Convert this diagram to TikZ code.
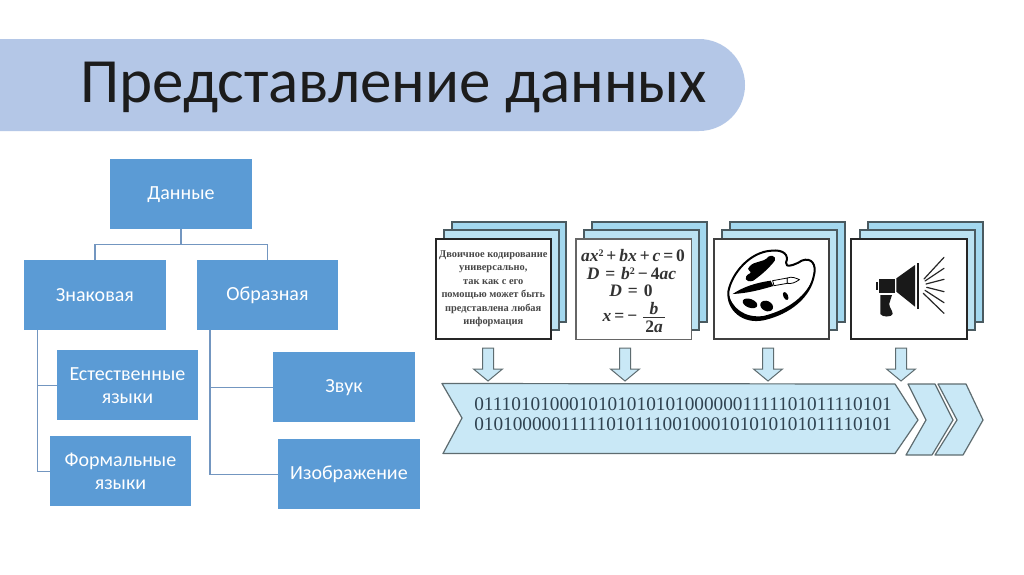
\documentclass[tikz,border=0pt]{standalone}
\usepackage{fontspec}
\setmainfont{Carlito}
\newfontfamily\serifcard{Liberation Serif}
\usetikzlibrary{calc}
\definecolor{titlebar}{HTML}{B4C7E7}
\definecolor{titleink}{HTML}{1C1C1C}
\definecolor{boxfill}{HTML}{5B9BD5}
\definecolor{linkcol}{HTML}{7396C0}
\definecolor{backcard}{HTML}{A3D8EF}
\definecolor{midcard}{HTML}{BBE2F2}
\definecolor{cardedge}{HTML}{4A5A60}
\definecolor{bandfill}{HTML}{C9E8F6}
\definecolor{bandedge}{HTML}{5E6C70}
\definecolor{bandink}{HTML}{2F4250}
\newcommand{\vv}[1]{{\bfseries\itshape #1}}
\newcommand{\up}[1]{\raisebox{5.5pt}{\fontsize{10}{10}\selectfont #1}}
\tikzset{
  orgbox/.style={fill=boxfill,draw=none,minimum width=141.5pt,minimum height=70pt,inner sep=0pt,
    text=white,align=center,font=\fontsize{20}{23}\selectfont,anchor=north west},
  orglink/.style={draw=linkcol,line width=1.4pt},
  cardfront/.style={fill=white,draw=black!85,line width=1.5pt},
  cardmid/.style={fill=midcard,draw=cardedge,line width=1.3pt},
  cardback/.style={fill=backcard,draw=cardedge,line width=1.3pt},
  downarrow/.style={fill=bandfill,draw=bandedge,line width=1pt,line join=miter},
  band/.style={fill=bandfill,draw=bandedge,line width=1.2pt,line join=round},
  formula/.style={font=\serifcard\bfseries\fontsize{17.5}{17.5}\selectfont,text=black!80,inner sep=0pt},
}
\begin{document}
\begin{tikzpicture}[x=1pt,y=-1pt]
\useasboundingbox (0,0) rectangle (1024,574);
\fill[white] (0,0) rectangle (1024,574);
% title bar
\fill[titlebar] (0,39) -- (699,39) arc[start angle=-90,end angle=90,radius=46] -- (0,131) -- cycle;
\node[anchor=west,text=titleink,font=\fontsize{63}{70}\selectfont,inner sep=0pt] (title) at (80,87) {Представление данных};
% org chart
\node[orgbox] (d) at (110,159) {Данные};
\node[orgbox] (z) at (24,260) {Знаковая};
\node[orgbox] (o) at (196.5,260) {Образная};
\node[orgbox] (e) at (56.5,350) {Естественные\\языки};
\node[orgbox] (f) at (49.5,436) {Формальные\\языки};
\node[orgbox] (s) at (273,352) {Звук};
\node[orgbox] (i) at (278,439) {Изображение};
\draw[orglink] (d.south) -- ++(0,15) -| (z.north);
\draw[orglink] (d.south) -- ++(0,15) -| (o.north);
\draw[orglink] ($(z.south west)+(13.5,0)$) |- (e.west);
\draw[orglink] ($(z.south west)+(13.5,0)$) |- (f.west);
\draw[orglink] ($(o.south west)+(13.5,0)$) |- (s.west);
\draw[orglink] ($(o.south west)+(13.5,0)$) |- (i.west);
% cards
\draw[cardback] (452,222) rectangle (566,322);
\draw[cardmid] (444,230) rectangle (559,330);
\draw[cardback] (592,222) rectangle (707,322);
\draw[cardmid] (584,230) rectangle (699,330);
\draw[cardback] (730,222) rectangle (845,322);
\draw[cardmid] (722,230) rectangle (837,330);
\draw[cardback] (868,222) rectangle (983,322);
\draw[cardmid] (860,230) rectangle (975,330);
\node[cardfront,minimum width=115pt,minimum height=100pt,inner sep=0pt,anchor=north west,align=center,
  font=\serifcard\bfseries\fontsize{10.4}{13.5}\selectfont,text=black!72] (c1) at (435,238)
  {Двоичное кодирование\\универсально,\\так как с его\\помощью может быть\\представлена любая\\информация};
\node[cardfront,draw=black!60,minimum width=115.5pt,minimum height=100.5pt,inner sep=0pt,anchor=north west] (c2) at (575,238) {};
\node[formula] (m1) at (633,256) {\vv{ax}\up{2}\,+\,\vv{bx}\,+\,\vv{c}\,=\,0};
\node[formula] (m2) at (631.5,274) {\vv{D}\,\,=\,\,\vv{b}\up{2}\,−\,4\vv{ac}};
\node[formula] (m3) at (631,291) {\vv{D}\,\,=\,\,0};
\node[formula] (m4) at (620,317) {\vv{x}\,=\,−};
\node[formula] (m5) at (654,309) {\vv{b}};
\node[formula] (m6) at (654,327) {2\vv{a}};
\coordinate (fracl) at (643,317);
\coordinate (fracr) at (665,317);
\draw[black!80,line width=.9pt] (fracl) -- (fracr);
\node[cardfront,draw=black!75,minimum width=115pt,minimum height=100pt,inner sep=0pt,anchor=north west] (c3) at (713,238) {};
\node[cardfront,minimum width=116pt,minimum height=100pt,inner sep=0pt,anchor=north west] (c4) at (850,238) {};
% palette
\begin{scope}[shift={(700,210)},scale=1/3]
\draw[fill=white,draw=black,line width=2pt,line join=round]
  (85,245) .. controls (95,190) and (150,125) .. (215,122)
  .. controls (250,118) and (268,135) .. (258,158)
  .. controls (255,175) and (285,165) .. (305,152)
  .. controls (335,140) and (350,165) .. (342,195)
  .. controls (330,260) and (270,310) .. (190,328)
  .. controls (130,340) and (82,300) .. (85,245) -- cycle;
\fill[black] (342,195) .. controls (330,260) and (270,310) .. (190,328)
  .. controls (130,340) and (82,300) .. (85,245)
  .. controls (92,295) and (135,325) .. (190,318)
  .. controls (265,300) and (325,255) .. (342,195) -- cycle;
\fill[black] (148,170) .. controls (165,150) and (190,160) .. (205,140)
  .. controls (225,130) and (232,150) .. (218,160)
  .. controls (205,175) and (190,190) .. (160,212)
  .. controls (135,220) and (128,200) .. (150,190)
  .. controls (160,185) and (135,180) .. (148,170) -- cycle;
\fill[black] (98,252) .. controls (130,230) and (170,218) .. (212,212) -- (220,228)
  .. controls (180,240) and (140,250) .. (98,252) -- cycle;
\draw[black,line width=.8pt,fill=white] (218,212) -- (262,204) -- (262,220) -- (222,227) -- cycle;
\draw[black,line width=.8pt,fill=white] (262,204) .. controls (275,198) and (290,205) .. (298,209)
  .. controls (285,218) and (275,222) .. (262,220) -- cycle;
\fill[black] (150,280) ellipse[x radius=23,y radius=13,rotate=-20];
\fill[black] (200,288) ellipse[x radius=20,y radius=15,rotate=-25];
\fill[black] (257,258) ellipse[x radius=7,y radius=13,rotate=25];
% megaphone
\fill[black!90] (528,215) rectangle (535,241);
\fill[black!90] (537,207) rectangle (585,250);
\fill[black!90] (589,205) -- (645,165) -- (645,290) -- (589,245) -- cycle;
\fill[black!90] (650,160) rectangle (656,296);
\fill[black!90] (541,255) -- (576,255) -- (568,280)
  .. controls (566,292) and (578,300) .. (578,312)
  .. controls (576,322) and (545,322) .. (541,312) -- cycle;
\draw[black!85,line width=1.2pt,line cap=round]
  (672,207) -- (732,142)
  (675,213) -- (732,175)
  (678,222) -- (732,208)
  (680,232) -- (732,245)
  (675,241) -- (732,278)
  (670,250) -- (732,310);
\end{scope}
% block arrows
\foreach \ax in {488,625,768,901}{
  \draw[downarrow] (\ax-5.5,348) -- (\ax+5.5,348) -- (\ax+5.5,369) -- (\ax+14.5,369)
    -- (\ax,381) -- (\ax-14.5,369) -- (\ax-5.5,369) -- cycle;
}
% band
\draw[band] (442,383.5) -- (895,384) -- (918,420) -- (895,453.5) -- (443,453.5) -- (462,418) -- cycle;
\draw[band] (908,384) -- (935,384) -- (953,420) -- (932,455) -- (906,455) -- (926,420) -- cycle;
\draw[band] (938,384) -- (966,384) -- (983,420) -- (963,455) -- (935,455) -- (957,420) -- cycle;
\node[inner sep=0pt,align=center,text=bandink,font=\serifcard\fontsize{19.27}{20}\selectfont] (bits) at (683,414.5)
 {01110101000101010101010000001111101011110101\\01010000011111010111001000101010101011110101};
\end{tikzpicture}
\end{document}
